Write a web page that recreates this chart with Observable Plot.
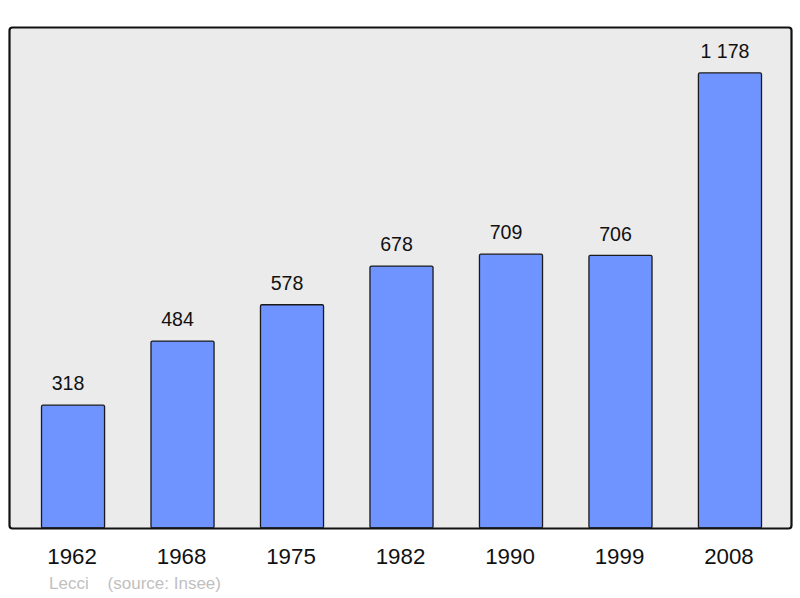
<!DOCTYPE html>
<html>
<head>
<meta charset="utf-8">
<script src="https://cdn.jsdelivr.net/npm/d3@7"></script>
<script src="https://cdn.jsdelivr.net/npm/@observablehq/plot@0.6"></script>
<style>
  html, body { margin: 0; padding: 0; background: #ffffff; }
  #chart { position: relative; width: 800px; height: 598px; }
  #caption { position: absolute; left: 49px; top: 574px; font-family: "Liberation Sans", Arial, sans-serif; font-size: 17px; color: #c0c0c0; white-space: pre; }
</style>
</head>
<body>
<div id="chart"></div>
<script>
const years = ["1962", "1968", "1975", "1982", "1990", "1999", "2008"];
const population = [318, 484, 578, 678, 709, 706, 1178];
const valueLabels = ["318", "484", "578", "678", "709", "706", "1 178"];
const commune = "Lecci";
const source = "(source: Insee)";

const data = years.map((y, i) => ({year: y, pop: population[i], label: valueLabels[i]}));

const plot = Plot.plot({
  width: 800,
  height: 598,
  marginTop: 27,
  marginBottom: 70,
  marginLeft: 9,
  marginRight: 9,
  style: {fontFamily: "'Liberation Sans', Arial, sans-serif", background: "transparent", overflow: "visible"},
  x: {domain: years, range: [41.5, 761.5], paddingInner: 0.424, paddingOuter: 0, round: false, axis: null},
  y: {domain: [0, 1297], axis: null},
  marks: [
    Plot.frame({fill: "#ebebeb", stroke: "none", rx: 3}),
    Plot.barY(data, {x: "year", y: "pop", fill: "#7094ff", stroke: "#1a1a1a", strokeWidth: 1.3, rx: 1.5}),
    Plot.frame({stroke: "#111111", strokeWidth: 2.2, rx: 3}),
    Plot.text(data, {x: "year", y: "pop", text: "label", dx: -5.5, dy: -21.5, fontSize: 19.6, fill: "#111111", lineAnchor: "middle"}),
    Plot.text(data, {x: "year", text: "year", frameAnchor: "bottom", dx: -1.5, dy: 28.5, fontSize: 22.3, fill: "#111111", lineAnchor: "middle"})
  ]
});
document.getElementById("chart").appendChild(plot);
const cap = document.createElement("div");
cap.id = "caption";
cap.textContent = commune + "    " + source;
document.getElementById("chart").appendChild(cap);
</script>
</body>
</html>
